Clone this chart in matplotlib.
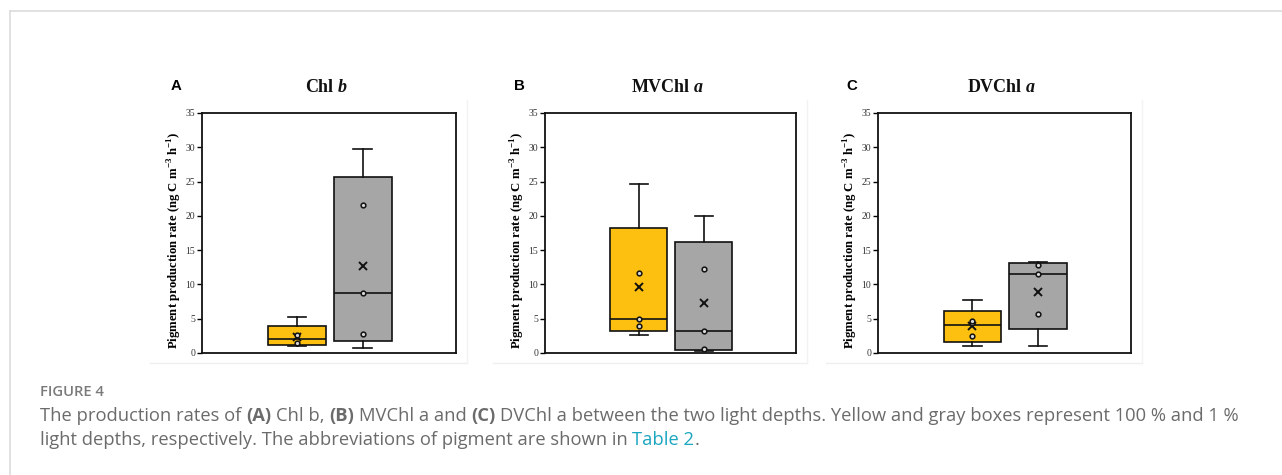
import matplotlib
matplotlib.use('Agg')
import matplotlib.pyplot as plt

W, H = 1282, 475

letters = ['A', 'B', 'C']
pigments = ['Chl', 'MVChl', 'DVChl']
pig_suffix = ['b', 'a', 'a']
light = ['100 %', '1 %']

# box statistics per panel: [100 % light, 1 % light]
whislo = [[1.05, 0.7], [2.65, 0.25], [0.97, 1.05]]
q1 = [[1.2, 1.7], [3.25, 0.45], [1.6, 3.5]]
med = [[2.0, 8.7], [4.9, 3.15], [4.1, 11.55]]
q3 = [[3.95, 25.6], [18.2, 16.2], [6.15, 13.1]]
whishi = [[5.3, 29.8], [24.6, 20.0], [7.8, 13.25]]
means = [[2.3, 12.7], [9.6, 7.3], [3.95, 8.85]]
points = [
    [[1.5, 2.6], [2.75, 8.7, 21.6]],
    [[3.9, 4.9, 11.6], [0.6, 3.15, 12.3]],
    [[2.5, 4.4, 4.7], [5.75, 11.5, 12.85]],
]
yticks = [0, 5, 10, 15, 20, 25, 30, 35]

box_colors = ['#fdc010', '#a6a6a6']

fig = plt.figure(figsize=(W / 100, H / 100), dpi=100)
rend = fig.canvas.get_renderer()


def px(x):
    return x / W


def py(y):
    return 1 - y / H


def space_w(**kw):
    a = fig.text(0, 0, 'a a', **kw)
    b = fig.text(0, 0, 'aa', **kw)
    w = a.get_window_extent(rend).width - b.get_window_extent(rend).width
    a.remove()
    b.remove()
    return w


def put_runs(x, y, parts, ha='left', **base):
    # parts: list of (text, extra kwargs); spaces are added by hand
    cur = x
    made = []
    for s, extra in parts:
        kw = dict(base)
        kw.update(extra)
        sp = space_w(**kw)
        lead = len(s) - len(s.lstrip(' '))
        trail = len(s) - len(s.rstrip(' '))
        cur += lead * sp
        t = fig.text(px(cur), py(y), s.strip(' '), va='center', **kw)
        cur = t.get_window_extent(rend).x1 + trail * sp
        made.append(t)
    if ha == 'center':
        shift = (cur - x) / 2
        for t in made:
            t.set_x(t.get_position()[0] - shift / W)
    return made


# outer frame of the figure block
fig.add_artist(plt.Line2D([px(10), 1], [py(11), py(11)], color='#dcdcdc', lw=1.2))
fig.add_artist(plt.Line2D([px(10), px(10)], [py(11), 0], color='#dcdcdc', lw=1.2))

ax_left = [202, 545, 878]
ax_w = [254, 251, 253]
ax_top, ax_bot = 113, 353

for i in range(3):
    ax = fig.add_axes([px(ax_left[i]), py(ax_bot), ax_w[i] / W, (ax_bot - ax_top) / H])
    stats = []
    for j in range(2):
        stats.append(dict(whislo=whislo[i][j], q1=q1[i][j], med=med[i][j], q3=q3[i][j],
                          whishi=whishi[i][j], mean=means[i][j], fliers=[], label=light[j]))
    bp = ax.bxp(stats, positions=[1, 2], widths=0.88, capwidths=0.28, patch_artist=True,
                showmeans=True, showfliers=False,
                boxprops=dict(edgecolor='#111111', linewidth=1.2),
                medianprops=dict(color='#111111', linewidth=1.2),
                whiskerprops=dict(color='#111111', linewidth=1.2),
                capprops=dict(color='#111111', linewidth=1.2),
                meanprops=dict(marker='x', markeredgecolor='#111111', markersize=6,
                               markeredgewidth=1.4))
    for patch, c in zip(bp['boxes'], box_colors):
        patch.set_facecolor(c)
    for j in range(2):
        ax.plot([j + 1] * len(points[i][j]), points[i][j], 'o', ms=3.4, mfc='#d8d8d8',
                mec='#111111', mew=1.1, zorder=5)

    ax.set_xlim(-0.44, 3.42)
    ax.set_ylim(0, 35)
    ax.set_xticks([])
    ax.set_yticks(yticks)
    ax.set_yticklabels([str(v) for v in yticks], family='Liberation Serif', fontsize=7,
                       color='#333333')
    ax.tick_params(axis='y', direction='out', length=3.5, width=1, pad=1.5)
    for s in ax.spines.values():
        s.set_linewidth(1.3)
        s.set_color('#111111')
    ax.set_ylabel('Pigment production rate (ng C m$^{\\mathregular{-3}}$ h$^{\\mathregular{-1}}$)',
                  family='Liberation Serif', weight='bold', fontsize=9.2, va='center')
    ax.yaxis.set_label_coords(-27 / ax_w[i], 0.467)

    # panel letter and title
    fig.text(px(ax_left[i] - 26), py(86), letters[i], family='Liberation Sans', weight='bold',
             fontsize=10.8, ha='center', va='center')
    cx = ax_left[i] + ax_w[i] / 2 - 3
    put_runs(cx, 87, [(pigments[i] + ' ', {}), (pig_suffix[i], {'style': 'italic'})],
             ha='center', family='Liberation Serif', weight='bold', fontsize=13, color='#111111')

    # faint edges of the panel picture
    pl = ax_left[i] - 52
    pr = ax_left[i] + ax_w[i] + 11
    fig.add_artist(plt.Line2D([px(pl), px(pr)], [py(363), py(363)], color='#efefef', lw=1))
    fig.add_artist(plt.Line2D([px(pr), px(pr)], [py(100), py(363)], color='#f3f3f3', lw=1))

# caption
cap = dict(family='Open Sans', fontsize=13.2, color='#6b6b6b')
fig.text(px(40), py(392), 'FIGURE 4', family='Open Sans', weight='semibold', fontsize=10.6,
         color='#7a7a7a', va='center')
put_runs(40, 416, [
    ('The production rates of ', {}),
    ('(A)', {'weight': 'bold'}),
    (' Chl b, ', {}),
    ('(B)', {'weight': 'bold'}),
    (' MVChl a and ', {}),
    ('(C)', {'weight': 'bold'}),
    (' DVChl a between the two light depths. Yellow and gray boxes represent 100 % and 1 %', {}),
], **cap)
put_runs(40, 440, [
    ('light depths, respectively. The abbreviations of pigment are shown in ', {}),
    ('Table 2', {'color': '#1ba6c0'}),
    ('.', {}),
], **cap)

fig.savefig('out.png', dpi=100)
